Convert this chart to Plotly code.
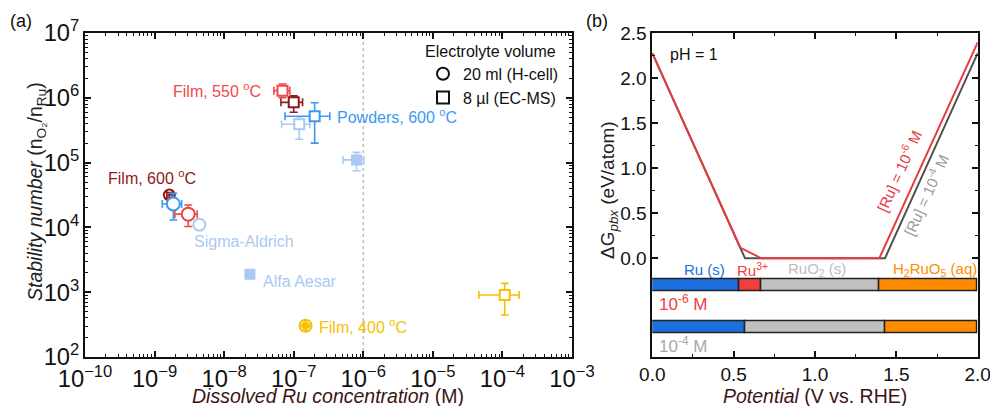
import numpy as np
import plotly.graph_objects as go

W, H = 990, 406
FONT = "Liberation Sans, Arial, sans-serif"

# ---------------- panel (a): stability number vs dissolved Ru ----------------
conc = [6.9e-8, 1.0e-7, 1.2e-7, 2.0e-7, 8.0e-7,
        1.63e-9, 1.86e-9, 3.05e-9, 4.4e-9, 2.35e-8, 1.48e-7, 1.08e-4]
conc_lo = [5.2e-8, 6.55e-8, 6.7e-8, 7.5e-8, 5.1e-7,
           1.5e-9, 1.29e-9, 1.96e-9, 4.0e-9, 2.2e-8, 1.4e-7, 4.58e-5]
conc_hi = [8.8e-8, 1.34e-7, 1.71e-7, 3.3e-7, 1.02e-6,
           1.8e-9, 2.45e-9, 4.1e-9, 5.0e-9, 2.5e-8, 1.56e-7, 1.74e-4]
stab = [1.29e6, 8.5e5, 3.9e5, 5.2e5, 1.1e5,
        3.16e4, 2.3e4, 1.6e4, 1.1e4, 1.9e3, 304, 906]
stab_lo = [1.0e6, 5.97e5, 2.29e5, 2.0e5, 7.5e4,
           2.9e4, 1.3e4, 1.03e4, 1.0e4, 1.7e3, 285, 445]
stab_hi = [1.63e6, 1.07e6, 5.1e5, 8.4e5, 1.44e5,
           3.45e4, 3.36e4, 2.22e4, 1.2e4, 2.1e3, 325, 1.37e3]

# marker style for each sample
c_red, c_dred, c_blue, c_lblue, c_yel = "#F04848", "#8E1B1B", "#3B99F5", "#A9C9F2", "#F7C000"
pt_color = [c_red, c_dred, c_lblue, c_blue, c_lblue,
            c_dred, c_blue, c_red, c_lblue, c_lblue, c_yel, c_yel]
pt_symbol = ["square", "square", "square", "square", "square",
             "circle-open", "circle", "circle", "circle", "square",
             "circle-cross-open", "square"]
pt_filled = [False, False, False, False, True,
             False, False, False, False, True, False, False]
pt_size = [10, 10, 10, 10, 9, 11, 13, 13, 12, 9, 12, 10]

sample_labels = ["Film, 550 <sup>o</sup>C", "Powders, 600 <sup>o</sup>C", "Film, 600 <sup>o</sup>C",
                 "Sigma-Aldrich", "Alfa Aesar", "Film, 400 <sup>o</sup>C"]
label_x = [-7.443, -6.408, -9.698, -8.467, -7.476, -6.662]   # log10 positions
label_y = [6.12, 5.719, 4.782, 3.779, 3.162, 2.478]
label_color = [c_red, c_blue, c_dred, c_lblue, c_lblue, c_yel]
label_anchor = ["right", "left", "left", "left", "left", "left"]

legend_names = ["20 ml (H-cell)", "8 \u00b5l (EC-MS)"]
legend_symbols = ["circle-open", "square-open"]

# ---------------- panel (b): Pourbaix energy vs potential ----------------
pot_1e6 = [0.0, 0.54, 0.67, 1.395, 2.0]
dg_1e6 = [2.28, 0.12, 0.0, 0.0, 2.40]
pot_1e4 = [0.0, 0.57, 1.43, 2.0]
dg_1e4 = [2.28, 0.0, 0.0, 2.28]

phase_edges_1e6 = [0.0, 0.535, 0.672, 1.395, 2.0]
phase_cols_1e6 = ["#1B6FDE", "#EE4040", "#C0C0C0", "#FF8C00"]
phase_edges_1e4 = [0.0, 0.57, 1.43, 2.0]
phase_cols_1e4 = ["#1B6FDE", "#C0C0C0", "#FF8C00"]

phase_names = ["Ru (s)", "Ru<sup>3+</sup>", "RuO<sub>2</sub> (s)", "H<sub>2</sub>RuO<sub>5</sub> (aq)"]
phase_name_x = [0.318, 0.618, 1.01, 1.737]
phase_name_col = ["#1B6FDE", "#EE4040", "#BDBDBD", "#FF8C00"]


def px(x):
    return x / W


def py(y):
    return 1 - y / H


fig = go.Figure()

# dotted reference line at 1 µM
fig.add_trace(go.Scatter(x=[1e-6, 1e-6], y=[1e2, 1e7], mode="lines",
                         line=dict(color="#BDBDBD", width=1.5, dash="dot"),
                         showlegend=False, hoverinfo="skip", xaxis="x", yaxis="y"))

for i in range(len(conc)):
    fill = pt_color[i] if pt_filled[i] else "white"
    if pt_symbol[i].endswith("-open"):
        fill = pt_color[i]
    fig.add_trace(go.Scatter(
        x=[conc[i]], y=[stab[i]], mode="markers",
        marker=dict(symbol=pt_symbol[i], size=pt_size[i], color=fill,
                    line=dict(width=2, color=pt_color[i])),
        error_x=dict(type="data", symmetric=False,
                     array=[conc_hi[i] - conc[i]], arrayminus=[conc[i] - conc_lo[i]],
                     color=pt_color[i], thickness=1.6, width=4),
        error_y=dict(type="data", symmetric=False,
                     array=[stab_hi[i] - stab[i]], arrayminus=[stab[i] - stab_lo[i]],
                     color=pt_color[i], thickness=1.6, width=4),
        showlegend=False, xaxis="x", yaxis="y"))

for name, sym in zip(legend_names, legend_symbols):
    fig.add_trace(go.Scatter(x=[None], y=[None], mode="markers", name=name,
                             marker=dict(symbol=sym, size=12, color="#111",
                                         line=dict(width=2, color="#111")),
                             xaxis="x", yaxis="y"))

# panel (b) curves
fig.add_trace(go.Scatter(x=pot_1e4, y=dg_1e4, mode="lines",
                         line=dict(color="#505050", width=2),
                         showlegend=False, xaxis="x2", yaxis="y2"))
fig.add_trace(go.Scatter(x=pot_1e6, y=dg_1e6, mode="lines",
                         line=dict(color="#E8393F", width=2),
                         showlegend=False, xaxis="x2", yaxis="y2"))

# phase-stability bars
for edges, cols, yrow in [(phase_edges_1e6, phase_cols_1e6, -0.302),
                          (phase_edges_1e4, phase_cols_1e4, -0.769)]:
    starts = edges[:-1]
    lengths = list(np.diff(edges))
    fig.add_trace(go.Bar(orientation="h", y=[yrow] * len(starts), x=lengths, base=starts,
                         width=0.135, marker=dict(color=cols, line=dict(color="#222", width=1.5)),
                         showlegend=False, xaxis="x2", yaxis="y2"))

axis_common = dict(showline=True, linecolor="#111", linewidth=1.8, mirror="ticks",
                   ticks="inside", ticklen=6, tickwidth=1.5, tickcolor="#111",
                   showgrid=False, zeroline=False, automargin=False,
                   ticklabeloverflow="allow",
                   tickfont=dict(family=FONT, size=19, color="#111"))
minor_common = dict(ticks="inside", ticklen=3, tickwidth=1.2, tickcolor="#111")

fig.update_layout(
    width=W, height=H, margin=dict(l=0, r=0, t=0, b=0, autoexpand=False),
    paper_bgcolor="white", plot_bgcolor="white",
    barmode="overlay", bargap=0,
    font=dict(family=FONT, size=16, color="#111"),
    xaxis=dict(type="log", range=[-10, -3], domain=[px(85), px(572)], anchor="y",
               dtick=1, exponentformat="power", ticklabelstandoff=1,
               minor=dict(dtick="D1", **minor_common), **axis_common),
    yaxis=dict(type="log", range=[2, 7], domain=[py(357), py(33)], anchor="x",
               dtick=1, exponentformat="power",
               minor=dict(dtick="D1", **minor_common), **axis_common),
    xaxis2=dict(range=[0, 2], domain=[px(652.3), px(977.7)], anchor="y2",
                tickvals=[0, 0.5, 1.0, 1.5, 2.0], ticktext=["0.0", "0.5", "1.0", "1.5", "2.0"],
                minor=dict(tickvals=[0.25, 0.75, 1.25, 1.75], **minor_common),
                **axis_common),
    yaxis2=dict(range=[-1.093, 2.5], domain=[py(356.7), py(33.3)], anchor="x2",
                tickvals=[0, 0.5, 1.0, 1.5, 2.0, 2.5],
                ticktext=["0.0", "0.5", "1.0", "1.5", "2.0", "2.5"],
                minor=dict(tickvals=[0.25, 0.75, 1.25, 1.75, 2.25], **minor_common),
                **axis_common),
    legend=dict(x=px(423), y=py(36), xanchor="left", yanchor="top",
                bgcolor="rgba(0,0,0,0)", font=dict(family=FONT, size=16, color="#111"),
                title=dict(text="Electrolyte volume", font=dict(family=FONT, size=16, color="#111")),
                itemsizing="constant", tracegroupgap=0),
)

ann = []
for t, x, y, c, a in zip(sample_labels, label_x, label_y, label_color, label_anchor):
    ann.append(dict(text=t, x=x, y=y, xref="x", yref="y", xanchor=a, yanchor="middle",
                    showarrow=False, font=dict(family=FONT, size=16, color=c)))

for t, x, c in zip(phase_names, phase_name_x, phase_name_col):
    ann.append(dict(text=t, x=x, y=-0.128, xref="x2", yref="y2", xanchor="center",
                    yanchor="middle", showarrow=False, font=dict(family=FONT, size=15, color=c)))


def paper_text(text, x, y, size=18, color="#111", angle=0):
    return dict(text=text, x=px(x), y=py(y), xref="paper", yref="paper",
                xanchor="center", yanchor="middle", textangle=angle, showarrow=False,
                font=dict(family=FONT, size=size, color=color))


ann += [
    dict(text="10<sup>-6</sup> M", x=0.029, y=-0.50, xref="x2", yref="y2", xanchor="left",
         yanchor="middle", showarrow=False, font=dict(family=FONT, size=17, color="#EE4040")),
    dict(text="10<sup>-4</sup> M", x=0.029, y=-0.963, xref="x2", yref="y2", xanchor="left",
         yanchor="middle", showarrow=False, font=dict(family=FONT, size=17, color="#A8A8A8")),
    dict(text="pH = 1", x=0.095, y=2.26, xref="x2", yref="y2", xanchor="left",
         yanchor="middle", showarrow=False, font=dict(family=FONT, size=16, color="#111")),
    dict(text="[Ru] = 10<sup>-6</sup> M", x=1.51, y=0.98, xref="x2", yref="y2",
         textangle=-65.7, showarrow=False, font=dict(family=FONT, size=15, color="#E8393F")),
    dict(text="[Ru] = 10<sup>-4</sup> M", x=1.676, y=0.714, xref="x2", yref="y2",
         textangle=-65.7, showarrow=False, font=dict(family=FONT, size=15, color="#9A9A9A")),
    # axis titles and panel tags
    paper_text("<i>Dissolved Ru concentration</i> (M)", 328, 396, size=19.5, color="#3C1414"),
    paper_text("<i>Stability number</i> (n<sub>O\u2082</sub>/n<sub>Ru</sub>)", 36, 192,
               size=19.5, color="#222", angle=-90),
    paper_text("<i>Potential</i> (V vs. RHE)", 815, 396, size=19.5, color="#3C1414"),
    paper_text("\u0394G<sub><i>pbx</i></sub> (eV/atom)", 609, 190, size=19, color="#222", angle=-90),
    paper_text("(a)", 21, 21),
    paper_text("(b)", 597, 21),
]
fig.update_layout(annotations=ann)

fig.write_html("out.html")
